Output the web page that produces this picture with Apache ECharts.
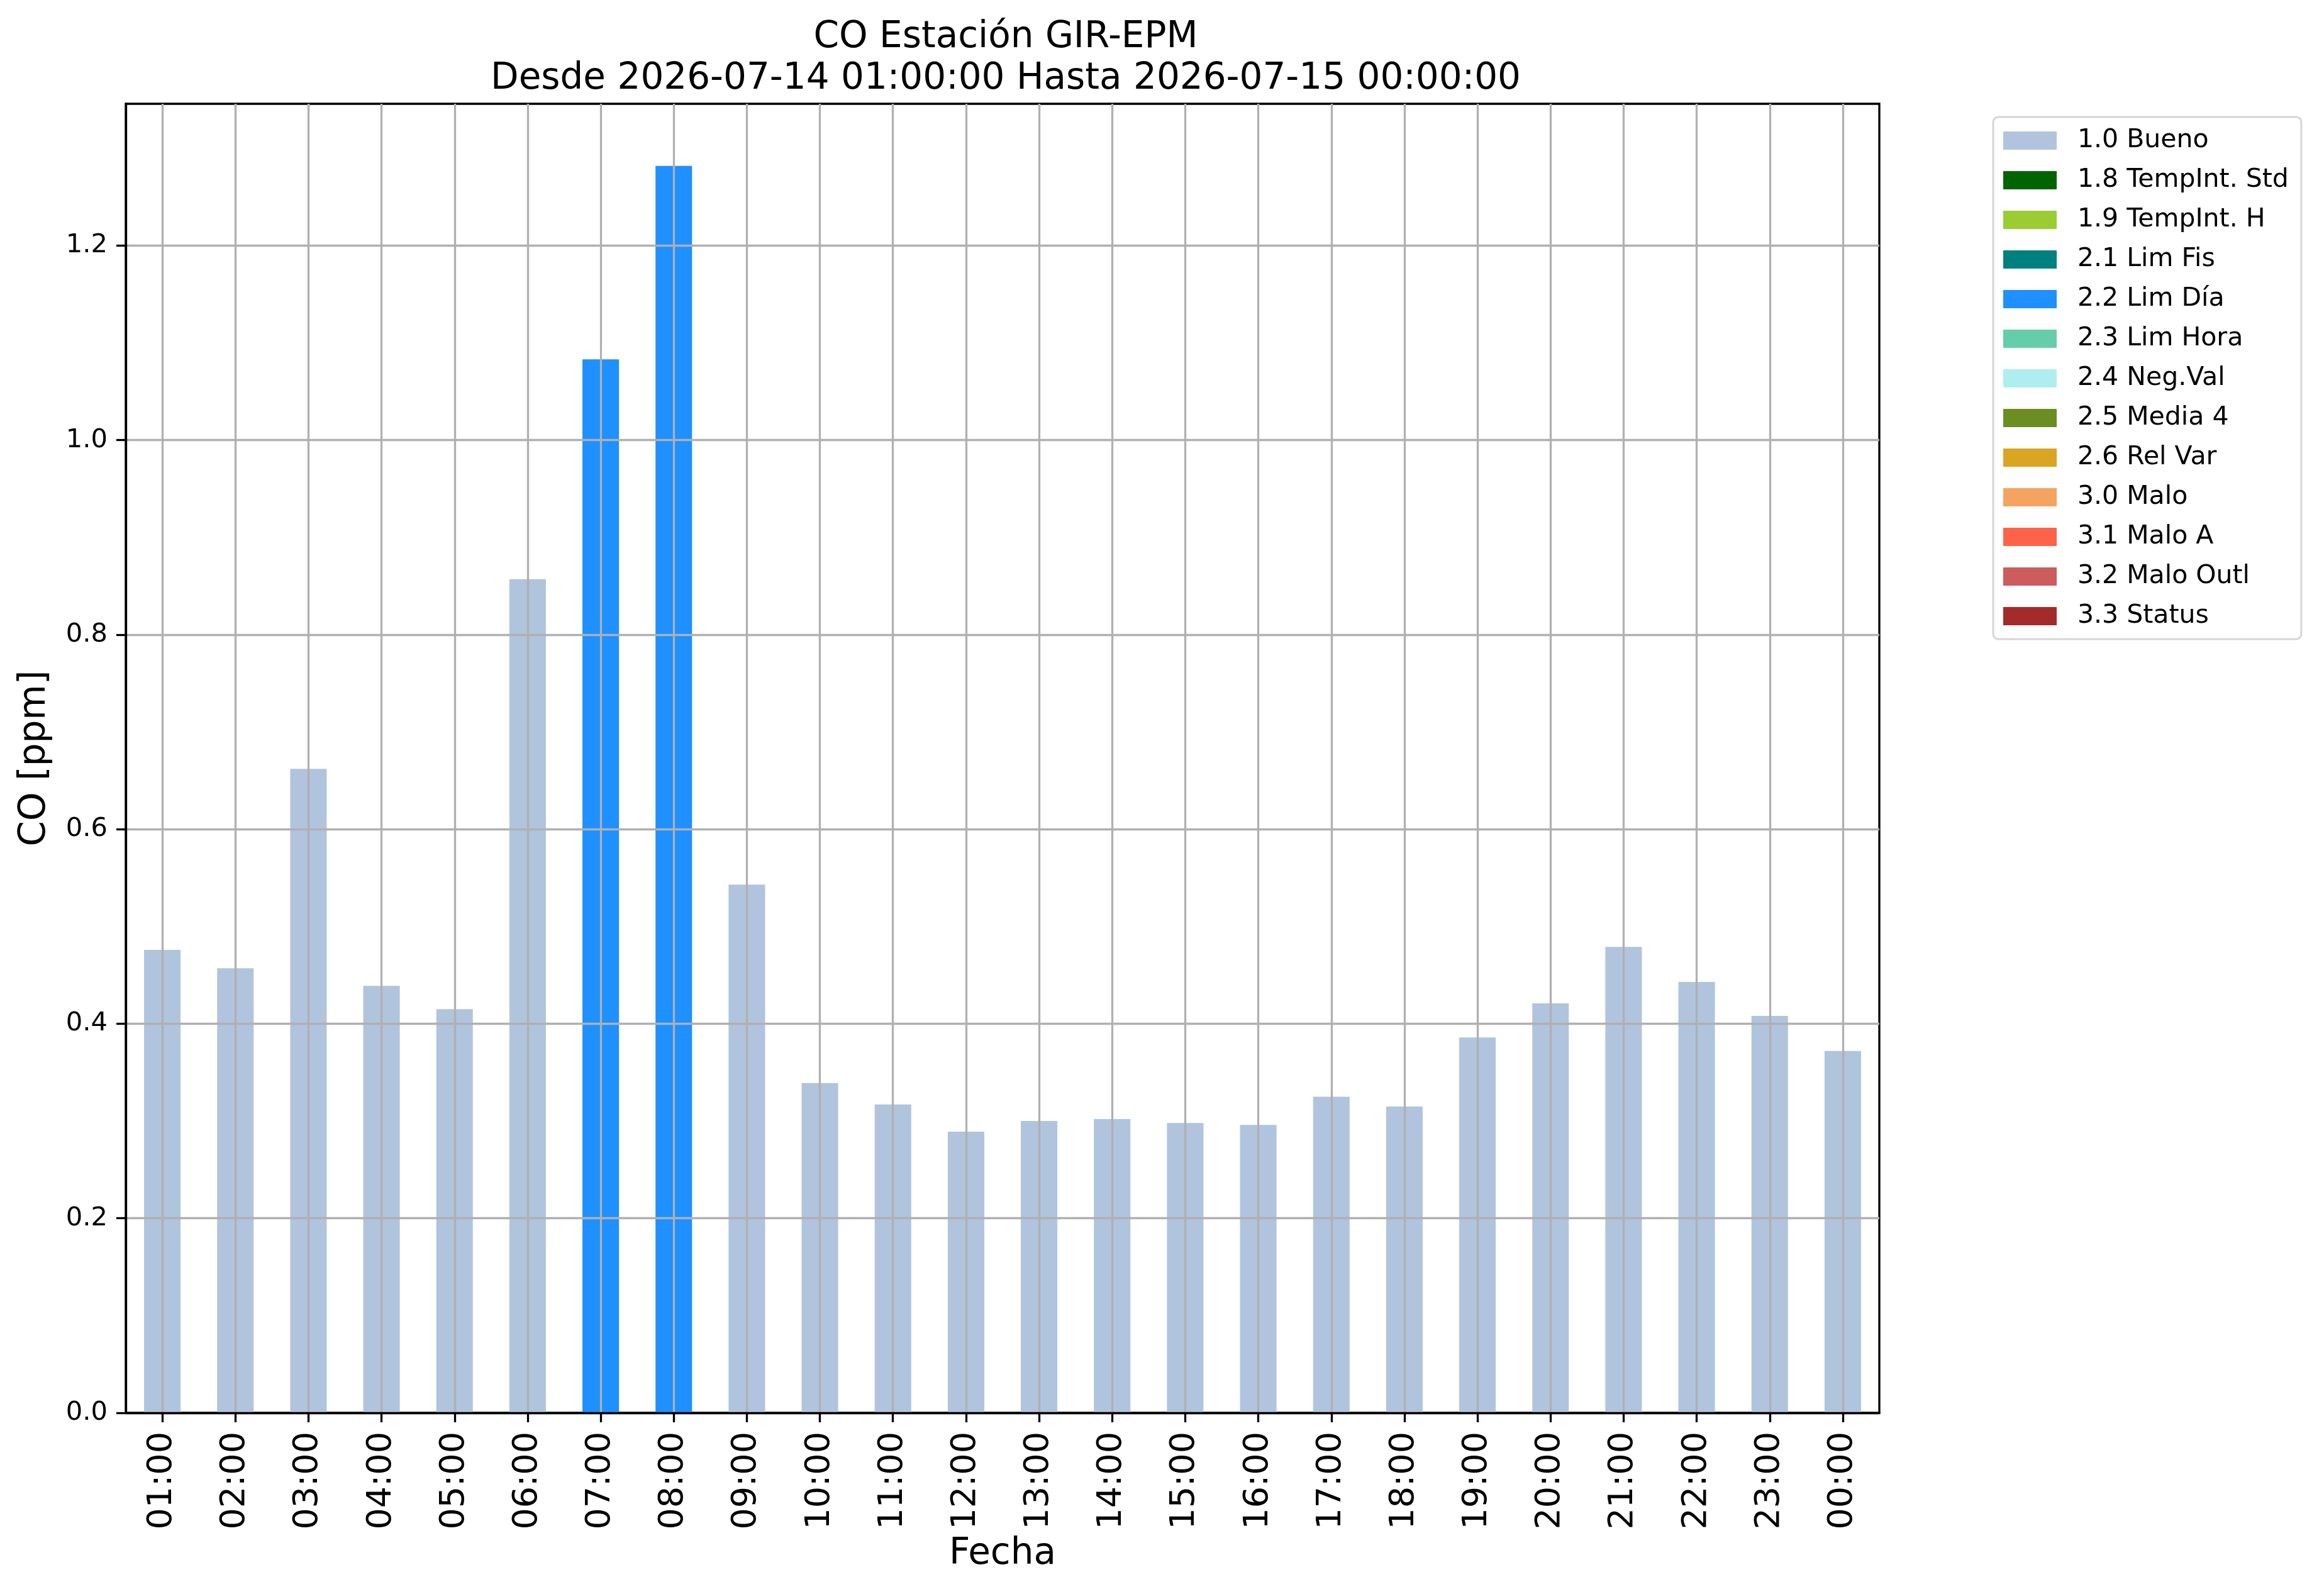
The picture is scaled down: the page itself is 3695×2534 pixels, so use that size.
<!DOCTYPE html>
<html>
<head>
<meta charset="utf-8">
<script src="https://cdn.jsdelivr.net/npm/echarts@6/dist/echarts.min.js"></script>
<style>
html,body{margin:0;padding:0;background:#fff;}
#chart{width:3695px;height:2534px;}
</style>
</head>
<body>
<div id="chart"></div>
<script>
// ---- data ----
const categories = ['01:00','02:00','03:00','04:00','05:00','06:00','07:00','08:00','09:00','10:00','11:00','12:00',
  '13:00','14:00','15:00','16:00','17:00','18:00','19:00','20:00','21:00','22:00','23:00','00:00'];
const values = [0.476,0.457,0.662,0.439,0.415,0.857,1.083,1.282,0.543,0.339,0.317,0.289,
  0.300,0.302,0.298,0.296,0.325,0.315,0.386,0.421,0.479,0.443,0.408,0.372];
const flags = ['1.0 Bueno','1.0 Bueno','1.0 Bueno','1.0 Bueno','1.0 Bueno','1.0 Bueno','2.2 Lim Día','2.2 Lim Día',
  '1.0 Bueno','1.0 Bueno','1.0 Bueno','1.0 Bueno','1.0 Bueno','1.0 Bueno','1.0 Bueno','1.0 Bueno','1.0 Bueno',
  '1.0 Bueno','1.0 Bueno','1.0 Bueno','1.0 Bueno','1.0 Bueno','1.0 Bueno','1.0 Bueno'];
const flagNames = ['1.0 Bueno','1.8 TempInt. Std','1.9 TempInt. H','2.1 Lim Fis','2.2 Lim Día','2.3 Lim Hora',
  '2.4 Neg.Val','2.5 Media 4','2.6 Rel Var','3.0 Malo','3.1 Malo A','3.2 Malo Outl','3.3 Status'];
const flagColors = ['#B0C4DE','#006400','#9ACD32','#008080','#1E90FF','#66CDAA','#AFEEEE','#6B8E23',
  '#DAA520','#F4A460','#FF6347','#CD5C5C','#A52A2A'];
const yTicks = [0.0,0.2,0.4,0.6,0.8,1.0,1.2];
const yMax = 1.3458;
const titleText = 'CO Estación GIR-EPM\nDesde 2026-07-14 01:00:00 Hasta 2026-07-15 00:00:00';

const FONT = 'DejaVu Sans';
const series = flagNames.map((name, k) => ({
  name: name,
  type: 'bar',
  stack: 'total',
  barWidth: '50%',
  itemStyle: { color: flagColors[k] },
  emphasis: { disabled: true },
  data: values.map((v, i) => flags[i] === name ? v : '-')
}));

const chart = echarts.init(document.getElementById('chart'), null, { renderer: 'canvas' });
chart.setOption({
  animation: false,
  backgroundColor: '#fff',
  title: {
    text: titleText,
    left: 1594,
    top: 22,
    textAlign: 'center',
    textStyle: { fontFamily: FONT, fontSize: 58, fontWeight: 'normal', color: '#000', lineHeight: 66 }
  },
  legend: {
    orient: 'vertical',
    left: 3169,
    top: 186,
    data: flagNames,
    icon: 'rect',
    itemWidth: 85,
    itemHeight: 29,
    itemGap: 22,
    padding: [17, 20, 16, 16],
    borderColor: '#d6d6d6',
    borderWidth: 3,
    borderRadius: 8,
    backgroundColor: '#fff',
    selectedMode: false,
    textStyle: { fontFamily: FONT, fontSize: 41, color: '#000', padding: [0, 0, 0, 28] }
  },
  grid: {
    left: 200, right: 707, top: 165, bottom: 288,
    show: true, borderColor: '#000', borderWidth: 3.3, backgroundColor: 'transparent'
  },
  xAxis: {
    type: 'category',
    data: categories,
    boundaryGap: true,
    z: 10,
    name: 'Fecha',
    nameLocation: 'middle',
    nameGap: 196,
    nameTextStyle: { fontFamily: FONT, fontSize: 58, color: '#000' },
    axisLine: { show: true, lineStyle: { color: '#000', width: 3.3 } },
    axisTick: { show: true, alignWithLabel: true, length: 15, lineStyle: { color: '#000', width: 3.3 } },
    axisLabel: { rotate: 90, margin: 30, interval: 0, fontFamily: FONT, fontSize: 54, color: '#000' },
    splitLine: { show: true, alignWithLabel: true, lineStyle: { color: '#b0b0b0', width: 3.3 } }
  },
  yAxis: {
    type: 'value',
    min: 0,
    max: yMax,
    interval: 0.2,
    z: 10,
    name: 'CO [ppm]',
    nameLocation: 'middle',
    nameGap: 115,
    nameTextStyle: { fontFamily: FONT, fontSize: 58, color: '#000' },
    axisLine: { show: true, lineStyle: { color: '#000', width: 3.3 } },
    axisTick: { show: true, length: 15, customValues: yTicks, lineStyle: { color: '#000', width: 3.3 } },
    axisLabel: { margin: 29, fontFamily: FONT, fontSize: 41.7, color: '#000', customValues: yTicks,
      formatter: v => v.toFixed(1) },
    splitLine: { show: true, lineStyle: { color: '#b0b0b0', width: 3.3 } }
  },
  series: series
});
</script>
</body>
</html>
